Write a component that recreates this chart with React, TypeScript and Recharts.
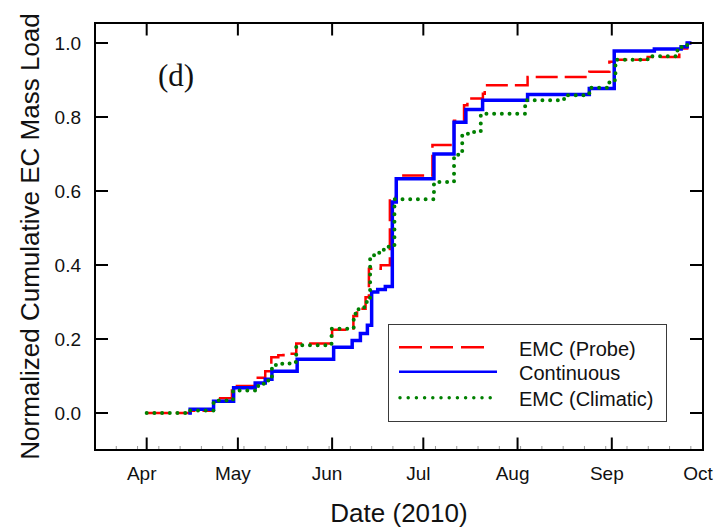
import React from 'react';
import { LineChart, Line, XAxis, YAxis, Legend } from 'recharts';

// x values are day-of-year 2010, y is normalized cumulative load
const monthTicks = [91, 121, 152, 182, 213, 244, 274];
const monthLabels = ['Apr', 'May', 'Jun', 'Jul', 'Aug', 'Sep', 'Oct'];
const weekTicks = [81, 88, 95, 102, 109, 116, 123, 130, 137, 144, 151, 158, 165, 172, 179, 186, 193, 200, 207, 214, 221, 228, 235, 242, 249, 256, 263, 270];
const loadTicks = [0, 0.2, 0.4, 0.6, 0.8, 1.0];

const seriesNames = ['EMC (Probe)', 'Continuous', 'EMC (Climatic)'];

const probeDays = [91, 105.3, 113, 119.05, 126.7, 130, 132, 134.3, 136, 140.2, 152, 159, 160.2, 163, 164.1, 168, 171, 173.2, 185, 192.1, 195.4, 196.5, 201.6, 202.2, 216.3, 236.6, 243.2, 244.8, 255.8, 266.2, 268.8, 270.2];
const probeLoad = [0, 0.006, 0.04, 0.073, 0.095, 0.113, 0.151, 0.156, 0.16, 0.188, 0.225, 0.262, 0.282, 0.313, 0.39, 0.399, 0.584, 0.642, 0.724, 0.79, 0.832, 0.85, 0.863, 0.886, 0.908, 0.922, 0.949, 0.955, 0.962, 0.985, 1.0, 1.0];

const contDays = [104.7, 105.3, 113, 119.6, 126.7, 130, 132.2, 140.5, 152.5, 158.6, 161.3, 163.6, 165, 167, 169.5, 171.8, 173.1, 185.5, 192.1, 196, 201.5, 216.3, 236.6, 244.8, 258, 266.8, 268.8, 270.2];
const contLoad = [0, 0.01, 0.032, 0.068, 0.081, 0.091, 0.113, 0.145, 0.178, 0.196, 0.215, 0.237, 0.327, 0.334, 0.342, 0.57, 0.633, 0.70, 0.786, 0.82, 0.845, 0.861, 0.877, 0.978, 0.984, 0.99, 1.0, 1.0];

const climDays = [91, 105.1, 113, 119.4, 127.7, 131, 132.2, 133.5, 138, 140.2, 151.8, 159.1, 160.7, 163, 164.5, 166, 167.5, 169, 170.5, 172.5, 185.5, 192.1, 194.8, 198.7, 200.9, 215.5, 228.3, 236.6, 243.2, 245.2, 255.8, 265.6, 268.8, 270.2];
const climLoad = [0, 0.007, 0.034, 0.061, 0.079, 0.095, 0.123, 0.133, 0.138, 0.183, 0.228, 0.268, 0.286, 0.3, 0.426, 0.432, 0.438, 0.443, 0.449, 0.578, 0.624, 0.698, 0.755, 0.76, 0.809, 0.845, 0.859, 0.879, 0.899, 0.955, 0.964, 0.989, 1.0, 1.0];

const FONT = '"Liberation Sans", Arial, Helvetica, sans-serif';
const RED = '#ff0000';
const BLUE = '#0000ff';
const GREEN = '#008000';

const toPoints = (days: number[], load: number[]) => days.map((d, i) => ({ day: d, load: load[i] }));
const probeData = toPoints(probeDays, probeLoad);
const contData = toPoints(contDays, contLoad);
const climData = toPoints(climDays, climLoad);

const bottomTicks = [...monthTicks, ...weekTicks].sort((a, b) => a - b);

const BottomTick = ({ x, y, payload }: any) => {
  const i = monthTicks.indexOf(payload.value);
  if (i < 0) {
    return <line x1={x} x2={x} y1={y - 1} y2={y - 4} stroke="#999" strokeWidth={1} />;
  }
  return (
    <g>
      <line x1={x} x2={x} y1={y} y2={y - 12.5} stroke="#000" strokeWidth={2} />
      <text x={x - 5} y={y + 29.5} textAnchor="middle" fontSize={19} fontFamily={FONT} fill="#111">
        {monthLabels[i]}
      </text>
    </g>
  );
};

const TopTick = ({ x, y }: any) => <line x1={x} x2={x} y1={y} y2={y + 12.5} stroke="#000" strokeWidth={2} />;

const LeftTick = ({ x, y, payload }: any) => (
  <g>
    <line x1={x} x2={x + 13} y1={y} y2={y} stroke="#000" strokeWidth={2} />
    <text x={x - 14} y={y + 7} textAnchor="end" fontSize={19} fontFamily={FONT} fill="#111">
      {payload.value.toFixed(1)}
    </text>
  </g>
);

const RightTick = ({ x, y }: any) => <line x1={x} x2={x - 13} y1={y} y2={y} stroke="#000" strokeWidth={2} />;

const frame = { stroke: '#000', strokeWidth: 2, strokeLinecap: 'square' as const };

const XTitle = () => (
  <text x={399} y={521.5} textAnchor="middle" fontSize={26} fontFamily={FONT} fill="#111">
    Date (2010)
  </text>
);

const YTitle = () => (
  <text x={38.5} y={236.5} transform="rotate(-90, 38.5, 236.5)" textAnchor="middle" fontSize={26} fontFamily={FONT} fill="#111">
    Normalized Cumulative EC Mass Load
  </text>
);

const renderLegend = () => {
  const rows = [22.2, 46.8, 72.8];
  return (
    <div style={{ width: 279, height: 98, boxSizing: 'border-box', border: '1.5px solid #3a3a3a', background: '#fff' }}>
      <svg width={276} height={95} style={{ display: 'block' }}>
        <line x1={10} x2={98} y1={rows[0]} y2={rows[0]} stroke={RED} strokeWidth={2.5} strokeDasharray="23 8" />
        <line x1={10} x2={108} y1={rows[1]} y2={rows[1]} stroke={BLUE} strokeWidth={2.5} />
        <line x1={11} x2={103} y1={rows[2]} y2={rows[2]} stroke={GREEN} strokeWidth={3.5} strokeDasharray="0 8.2" strokeLinecap="round" />
        {seriesNames.map((name, i) => (
          <text key={name} x={130} y={rows[i] + 8.5} fontSize={20} fontFamily={FONT} fill="#111">
            {name}
          </text>
        ))}
      </svg>
    </div>
  );
};

export default function App() {
  return (
    <div style={{ position: 'absolute', left: 0, top: 0, width: 719, height: 528, background: '#fff' }}>
      <LineChart width={719} height={528} margin={{ top: 22, right: 15, bottom: 77, left: 94 }}>
        <XAxis
          dataKey="day"
          type="number"
          domain={[74, 274]}
          allowDataOverflow
          ticks={bottomTicks}
          interval={0}
          height={1}
          tickSize={0}
          tickMargin={0}
          tickLine={false}
          axisLine={frame}
          tick={BottomTick}
          label={<XTitle />}
        />
        <XAxis
          xAxisId="top"
          orientation="top"
          dataKey="day"
          type="number"
          domain={[74, 274]}
          allowDataOverflow
          ticks={monthTicks}
          interval={0}
          height={1}
          tickSize={0}
          tickMargin={0}
          tickLine={false}
          axisLine={frame}
          tick={TopTick}
        />
        <YAxis
          type="number"
          domain={[-0.1, 1.054]}
          allowDataOverflow
          ticks={loadTicks}
          interval={0}
          width={1}
          tickSize={0}
          tickMargin={0}
          tickLine={false}
          axisLine={frame}
          tick={LeftTick}
          label={<YTitle />}
        />
        <YAxis
          yAxisId="right"
          orientation="right"
          type="number"
          domain={[-0.1, 1.054]}
          allowDataOverflow
          ticks={loadTicks}
          interval={0}
          width={1}
          tickSize={0}
          tickMargin={0}
          tickLine={false}
          axisLine={frame}
          tick={RightTick}
        />
        <Line
          data={probeData}
          dataKey="load"
          type="stepAfter"
          stroke={RED}
          strokeWidth={2.5}
          strokeDasharray="22 7"
          dot={false}
          activeDot={false}
          isAnimationActive={false}
        />
        <Line
          data={contData}
          dataKey="load"
          type="stepAfter"
          stroke={BLUE}
          strokeWidth={3.5}
          dot={false}
          activeDot={false}
          isAnimationActive={false}
        />
        <Line
          data={climData}
          dataKey="load"
          type="stepAfter"
          stroke={GREEN}
          strokeWidth={4}
          strokeDasharray="0 7.7"
          strokeLinecap="round"
          dot={false}
          activeDot={false}
          isAnimationActive={false}
        />
        <Legend
          layout="vertical"
          align="center"
          verticalAlign="middle"
          content={renderLegend}
          wrapperStyle={{ left: 388, top: 324, width: 279, height: 98 }}
        />
      </LineChart>
      <svg width={719} height={528} style={{ position: 'absolute', left: 0, top: 0, pointerEvents: 'none' }}>
        <text x={158} y={85.5} fontSize={31} fontFamily='"Liberation Serif", "Times New Roman", serif' fill="#111">
          (d)
        </text>
      </svg>
    </div>
  );
}
